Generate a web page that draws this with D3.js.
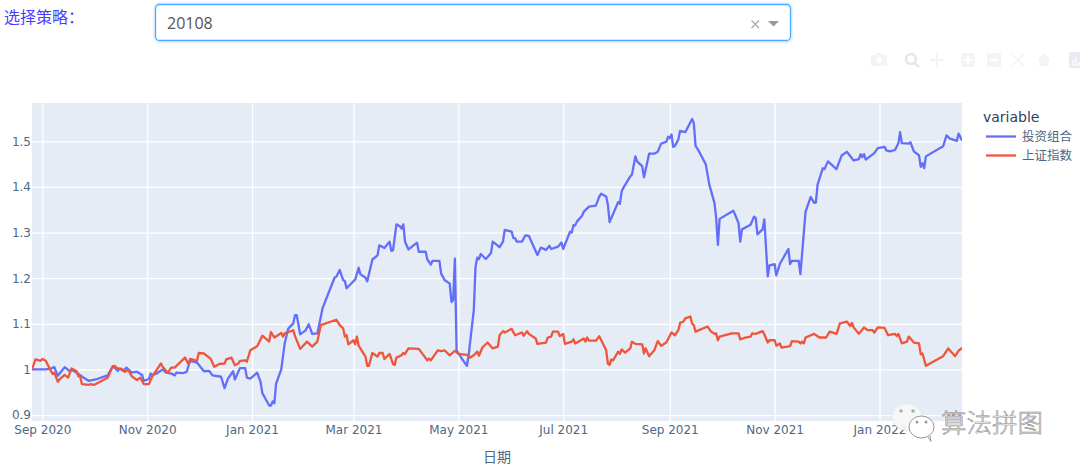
<!DOCTYPE html>
<html><head><meta charset="utf-8">
<script src="https://cdnjs.cloudflare.com/ajax/libs/d3/7.8.5/d3.min.js"></script>
<style>html,body{margin:0;padding:0;background:#fff;overflow:hidden}svg{display:block}</style>
</head><body><svg id="c" width="1080" height="470"></svg>
<script>
// Dates are stored as whole days since the start date
const startDate = new Date(2020, 8, 1);
const seriesNames = ["投资组合", "上证指数"];
const portfolioDays = [-6,2,5,7,9,13,16,17,21,24,27,31,38,41,44,45,47,49,52,55,58,59,62,63,64,66,70,72,75,77,78,82,84,86,90,94,97,99,104,106,108,111,112,115,118,119,121,125,127,128,132,133,134,135,136,139,141,143,146,147,148,150,153,155,157,160,162,163,166,170,171,173,175,176,177,182,184,185,188,189,192,195,196,199,202,203,204,206,208,209,210,211,213,218,219,223,224,226,227,231,232,234,237,238,239,240,241,244,247,248,251,252,253,254,255,258,261,262,266,268,269,273,274,275,276,279,281,283,288,290,293,295,296,300,302,303,307,308,309,310,311,314,315,318,322,324,325,328,329,330,335,336,337,338,342,343,345,346,349,350,353,356,358,360,363,364,365,366,367,368,370,371,374,378,379,380,382,386,388,391,392,393,394,402,405,406,407,412,414,415,416,419,420,422,423,426,427,429,434,435,436,440,441,444,447,449,450,451,454,455,457,462,465,468,472,475,476,477,478,479,484,486,490,491,493,496,498,499,500,504,505,507,510,511,512,513,514,524,526,528,532,533,535];
const portfolioValues = [1,1,1.002,1.005,.986,1.005,.996,1,.99,.982,.975,.978,.987,1.007,.997,1.002,.997,1.004,.993,.995,.988,.975,.979,.991,.988,.99,1,.993,.991,.987,.993,.992,.995,1.019,1.015,.996,.997,.987,.984,.959,.98,.996,.978,1.003,1.003,.982,.98,.993,.972,.948,.921,.921,.93,.926,.969,1,1.057,1.089,1.101,1.119,1.119,1.077,1.085,1.099,1.078,1.079,1.115,1.134,1.163,1.201,1.203,1.218,1.196,1.194,1.178,1.197,1.223,1.209,1.201,1.193,1.241,1.25,1.272,1.266,1.28,1.26,1.261,1.318,1.314,1.309,1.318,1.28,1.263,1.278,1.258,1.258,1.241,1.23,1.238,1.238,1.21,1.196,1.188,1.148,1.152,1.243,1.042,1.024,1.008,1.031,1.13,1.225,1.245,1.242,1.253,1.242,1.255,1.28,1.268,1.28,1.306,1.302,1.288,1.288,1.28,1.28,1.294,1.293,1.251,1.267,1.262,1.271,1.264,1.269,1.278,1.264,1.302,1.3,1.316,1.316,1.324,1.337,1.346,1.357,1.359,1.379,1.385,1.379,1.361,1.323,1.367,1.363,1.39,1.398,1.423,1.427,1.467,1.456,1.445,1.421,1.473,1.473,1.477,1.495,1.499,1.51,1.507,1.515,1.488,1.49,1.504,1.523,1.52,1.549,1.54,1.49,1.478,1.449,1.405,1.365,1.332,1.273,1.33,1.348,1.321,1.28,1.307,1.317,1.335,1.332,1.296,1.307,1.329,1.204,1.228,1.231,1.206,1.231,1.264,1.231,1.238,1.238,1.209,1.346,1.378,1.365,1.366,1.405,1.441,1.439,1.456,1.439,1.469,1.477,1.458,1.461,1.472,1.465,1.472,1.46,1.474,1.485,1.488,1.48,1.478,1.481,1.496,1.52,1.496,1.495,1.498,1.478,1.469,1.444,1.452,1.441,1.467,1.489,1.513,1.506,1.501,1.517,1.502];
const indexDays = [-6,-4,-1,0,2,4,6,7,9,10,13,15,17,20,21,22,23,27,28,30,38,41,42,44,46,48,50,52,55,57,59,62,64,69,70,73,75,77,83,85,86,90,91,94,98,100,103,106,107,110,112,114,115,118,119,121,125,128,132,133,135,139,140,141,146,147,150,154,157,160,162,171,173,175,176,177,178,181,182,183,184,188,189,190,192,195,196,198,199,202,204,205,206,209,210,211,213,219,224,225,226,230,232,234,237,240,242,247,249,251,253,254,256,259,262,265,266,268,269,273,275,279,280,282,283,287,288,293,294,296,297,300,301,303,304,308,309,310,315,316,317,318,322,324,328,329,330,331,332,335,336,337,339,342,343,345,349,350,351,353,356,358,360,363,366,368,370,371,373,374,377,378,379,380,387,389,391,392,393,394,401,405,406,409,412,413,415,419,420,422,423,426,427,429,430,435,436,440,441,442,443,444,449,452,456,458,462,464,468,470,471,472,475,478,480,483,484,486,490,492,496,497,498,500,503,504,507,510,511,512,514,524,527,531,533,535];
const indexValues = [1,1.022,1.019,1.023,1.019,1.004,.99,.993,.973,.978,.988,.982,1.002,.996,.985,.985,.968,.966,.968,.966,.982,1.007,1.008,1.002,1.001,.995,.999,.985,.977,.982,.968,.968,.985,1.013,1.006,.993,1.004,1.004,1.026,1.012,1.023,1.019,1.036,1.035,1.023,1.006,1.012,1.013,1.022,1.026,1.009,1.013,1.019,1.02,1.017,1.042,1.051,1.074,1.061,1.082,1.07,1.08,1.072,1.079,1.086,1.073,1.045,1.061,1.05,1.061,1.097,1.109,1.097,1.09,1.072,1.075,1.055,1.064,1.055,1.072,1.052,1.028,1.008,1.008,1.036,1.028,1.036,1.036,1.023,1.034,1.012,1.01,1.026,1.031,1.036,1.034,1.046,1.045,1.02,1.024,1.02,1.042,1.04,1.042,1.031,1.041,1.034,1.032,1.026,1.031,1.039,1.03,1.048,1.059,1.046,1.05,1.075,1.084,1.081,1.089,1.075,1.081,1.074,1.084,1.078,1.068,1.056,1.059,1.07,1.072,1.083,1.083,1.073,1.078,1.056,1.061,1.066,1.057,1.068,1.061,1.07,1.063,1.063,1.073,1.042,1.013,1.01,1.022,1.02,1.039,1.034,1.044,1.037,1.046,1.061,1.056,1.055,1.035,1.046,1.029,1.042,1.062,1.052,1.059,1.081,1.075,1.086,1.102,1.105,1.112,1.116,1.1,1.097,1.083,1.094,1.083,1.078,1.079,1.064,1.072,1.079,1.079,1.066,1.07,1.072,1.079,1.078,1.084,1.077,1.059,1.064,1.064,1.052,1.057,1.048,1.051,1.062,1.061,1.057,1.061,1.057,1.07,1.078,1.07,1.07,1.083,1.078,1.101,1.105,1.095,1.102,1.092,1.078,1.092,1.086,1.086,1.081,1.092,1.091,1.075,1.078,1.073,1.078,1.057,1.061,1.072,1.059,1.057,1.033,1.035,1.008,1.029,1.046,1.029,1.041,1.047];
const yTickValues = [0.9,1,1.1,1.2,1.3,1.4,1.5];
const yTickLabels = ["0.9","1","1.1","1.2","1.3","1.4","1.5"];
const xTickDates = [[2020,8],[2020,10],[2021,0],[2021,2],[2021,4],[2021,6],[2021,8],[2021,10],[2022,0]];
const xTickLabels = ["Sep 2020","Nov 2020","Jan 2021","Mar 2021","May 2021","Jul 2021","Sep 2021","Nov 2021","Jan 2022"];
const colors = ["#636efa","#EF553B"];

const font = "'DejaVu Sans','Noto Sans CJK SC',sans-serif";
const cjk = "'Noto Sans CJK SC',sans-serif";
const tickColor = "#506784";
const svg = d3.select("#c");
const L=32,R=962,T=103,B=421;
const x = d3.scaleTime().domain([new Date(2020,7,26),new Date(2022,1,18)]).range([L,R]);
const y = d3.scaleLinear().domain([0.887,1.584]).range([B,T]);
const toDate = d => d3.timeDay.offset(startDate,d);

// top controls
svg.append("text").attr("x",4).attr("y",23).attr("font-family",cjk).attr("font-size",16).attr("fill","#4a3cff").text("选择策略：");
svg.append("rect").attr("x",153).attr("y",2).attr("width",640).attr("height",41.5).attr("rx",6).attr("fill","#e6f3ff");
svg.append("rect").attr("x",155.5).attr("y",4.5).attr("width",635).attr("height",36).attr("rx",4).attr("fill","#fff").attr("stroke","#4da6ff").attr("stroke-width",1.3);
svg.append("text").attr("x",167).attr("y",29).attr("font-family","'Open Sans',sans-serif").attr("font-size",16).attr("fill","#555").text("20108");
svg.append("path").attr("d","M751.5 20.5L759 28M759 20.5L751.5 28").attr("stroke","#aaa").attr("stroke-width",1.3).attr("fill","none");
svg.append("path").attr("d","M768 21L779 21L773.5 26.5Z").attr("fill","#999");

// faint modebar
const mb = svg.append("g").attr("fill","#f4f4f4");
mb.append("path").attr("d","M871 55h4l1.5-2h5l1.5 2h4v11h-16z");
mb.append("circle").attr("cx",879).attr("cy",60).attr("r",3).attr("fill","#fff");
mb.append("circle").attr("cx",911).attr("cy",59).attr("r",5).attr("fill","none").attr("stroke","#e6e6e6").attr("stroke-width",2.4);
mb.append("path").attr("d","M914.5 63L919 67").attr("stroke","#e6e6e6").attr("stroke-width",2.4);
mb.append("path").attr("d","M937 53v14M930 60h14").attr("stroke","#f3f3f3").attr("stroke-width",2);
mb.append("rect").attr("x",961).attr("y",53).attr("width",14).attr("height",14).attr("rx",1);
mb.append("path").attr("d","M968 56v8M964 60h8").attr("stroke","#fff").attr("stroke-width",2);
mb.append("rect").attr("x",987).attr("y",53).attr("width",14).attr("height",14).attr("rx",1);
mb.append("path").attr("d","M990 60h8").attr("stroke","#fff").attr("stroke-width",2);
mb.append("path").attr("d","M1012 54l12 12M1024 54l-12 12").attr("stroke","#f3f3f3").attr("stroke-width",1.5);
mb.append("path").attr("d","M1044 54l7 6h-2v6h-10v-6h-2z");
mb.append("rect").attr("x",1069).attr("y",52).attr("width",11).attr("height",16).attr("fill","#e8ebf3");
mb.append("path").attr("d","M1073 66v-6M1076 66v-9M1079 66v-4").attr("stroke","#fff").attr("stroke-width",1.4);

// plot background
svg.append("rect").attr("x",L).attr("y",T).attr("width",R-L).attr("height",B-T).attr("fill","#e5ecf6");

// axes drawn through d3
const xAxis = d3.axisBottom(x).tickValues(xTickDates.map(d=>new Date(d[0],d[1],1))).tickFormat((d,i)=>xTickLabels[i]).tickSize(-(B-T)).tickPadding(6);
const gx = svg.append("g").attr("transform",`translate(0,${B})`).call(xAxis);
const yAxis = d3.axisLeft(y).tickValues(yTickValues).tickFormat((d,i)=>yTickLabels[i]).tickSize(-(R-L)).tickPadding(1);
const gy = svg.append("g").attr("transform",`translate(${L},0)`).call(yAxis);
[gx,gy].forEach(g=>{
  g.select(".domain").remove();
  g.selectAll("line").attr("stroke","#fff").attr("stroke-width",1.3);
  g.selectAll("text").attr("fill",tickColor).attr("font-family",font).attr("font-size",12);
});
gx.selectAll("text").attr("dy","0.6em");

// lines
svg.append("clipPath").attr("id","pc").append("rect").attr("x",L).attr("y",T).attr("width",R-L).attr("height",B-T);
const line = d3.line().x(d=>x(toDate(d[0]))).y(d=>y(d[1]));
const g = svg.append("g").attr("clip-path","url(#pc)");
[[portfolioDays,portfolioValues],[indexDays,indexValues]].forEach((s,i)=>{
  g.append("path").datum(d3.zip(s[0],s[1])).attr("d",line).attr("fill","none").attr("stroke",colors[i]).attr("stroke-width",2.3).attr("stroke-linejoin","round");
});

// x title
svg.append("text").attr("x",497).attr("y",462).attr("text-anchor","middle").attr("font-family",cjk).attr("font-size",14).attr("fill",tickColor).text("日期");

// legend
svg.append("text").attr("x",983).attr("y",122).attr("font-family",font).attr("font-size",14).attr("fill","#2a3f5f").text("variable");
seriesNames.forEach((n,i)=>{
  const ly = 136.5+i*19;
  svg.append("line").attr("x1",986).attr("x2",1016).attr("y1",ly).attr("y2",ly).attr("stroke",colors[i]).attr("stroke-width",2.3);
  svg.append("text").attr("x",1022).attr("y",ly+4.5).attr("font-family",cjk).attr("font-size",12.5).attr("fill",tickColor).text(n);
});

// watermark
const wm = svg.append("g");
wm.append("ellipse").attr("cx",907).attr("cy",417).attr("rx",15).attr("ry",13.5).attr("fill","#f7f7f7").attr("fill-opacity",.92).attr("stroke","#e0e0e0").attr("stroke-width",.6);
[[901,411],[913,411]].forEach(p=>wm.append("circle").attr("cx",p[0]).attr("cy",p[1]).attr("r",1.7).attr("fill","#aaa"));
wm.append("path").attr("d","M928 437l3 4.5l-1-5.5").attr("fill","#fff").attr("stroke","#999").attr("stroke-width",1);
wm.append("ellipse").attr("cx",921.5).attr("cy",427).attr("rx",12.5).attr("ry",11).attr("fill","#fff").attr("stroke","#999").attr("stroke-width",1);
[[917,422],[926,422]].forEach(p=>wm.append("circle").attr("cx",p[0]).attr("cy",p[1]).attr("r",1.5).attr("fill","#999"));
wm.append("text").attr("x",941).attr("y",432).attr("font-family",cjk).attr("font-size",25.5).attr("font-weight",300).attr("fill","#fff").attr("stroke","#8a8a8a").attr("stroke-width",.6).text("算法拼图");
</script></body></html>
